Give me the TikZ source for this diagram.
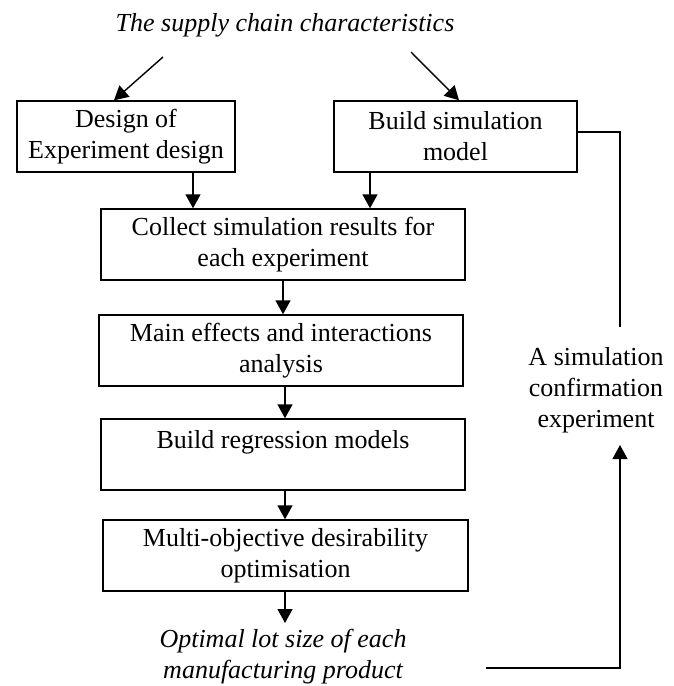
\documentclass[tikz,border=0pt]{standalone}
\usepackage{fontspec}
\setmainfont{Liberation Serif}
\usetikzlibrary{arrows.meta}
\begin{document}
\begin{tikzpicture}[x=1pt,y=1pt,
  every node/.style={font=\fontsize{26}{31}\selectfont, align=center, inner sep=0pt},
  stepbox/.style={draw, line width=1.4pt, minimum height=71pt},
  conn/.style={line width=1.4pt},
  arr/.style={conn, -{Triangle[length=14pt,width=15pt]}}]
\useasboundingbox (0,0) rectangle (674,-686);
\node (title) at (285,-25) {\itshape The supply chain characteristics};
\node[stepbox, minimum width=218pt] (design) at (126,-136.5) {Design of\\Experiment design};
\node[stepbox, minimum width=243pt] (build) at (455.5,-136.5) {Build simulation\\model};
\node[stepbox, minimum width=364pt] (collect) at (283,-244.5) {Collect simulation results for\\each experiment};
\node[stepbox, minimum width=364pt] (main) at (281,-350.5) {Main effects and interactions\\analysis};
\node[stepbox, minimum width=364pt] (regr) at (283,-454.5) {Build regression models\\\mbox{}};
\node[stepbox, minimum width=365pt] (multi) at (285.5,-555.5) {Multi-objective desirability\\optimisation};
\node (optimal) at (283,-657) {\itshape Optimal lot size of each\\\itshape manufacturing product};
\node (confirm) at (596,-390) {A simulation\\confirmation\\experiment};
% free ends
\coordinate (ls) at (163,-57);
\coordinate (rs) at (411,-52);
\coordinate (loopTop) at (620,-132);
\coordinate (loopTopEnd) at (620,-327);
\coordinate (loopBotStart) at (486,-668);
\coordinate (loopCorner) at (620,-668);
\coordinate (loopTip) at (620,-445);
% arrows
\draw[arr] (ls) -- (design.north -| 114,0);
\draw[arr] (rs) -- (build.north -| 459,0);
\draw[arr] (design.south -| 193,0) -- (collect.north -| 193,0);
\draw[arr] (build.south -| 370,0) -- (collect.north -| 370,0);
\draw[arr] (collect.south -| 283,0) -- (main.north -| 283,0);
\draw[arr] (main.south -| 285,0) -- (regr.north -| 285,0);
\draw[arr] (regr.south -| 285,0) -- (multi.north -| 285,0);
\draw[arr] (multi.south -| 285,0) -- (285,-623) coordinate (optTop);
\draw[conn] (build.east |- loopTop) -- (loopTop) -- (loopTopEnd);
\draw[arr] (loopBotStart) -- (loopCorner) -- (loopTip);
\end{tikzpicture}
\end{document}
